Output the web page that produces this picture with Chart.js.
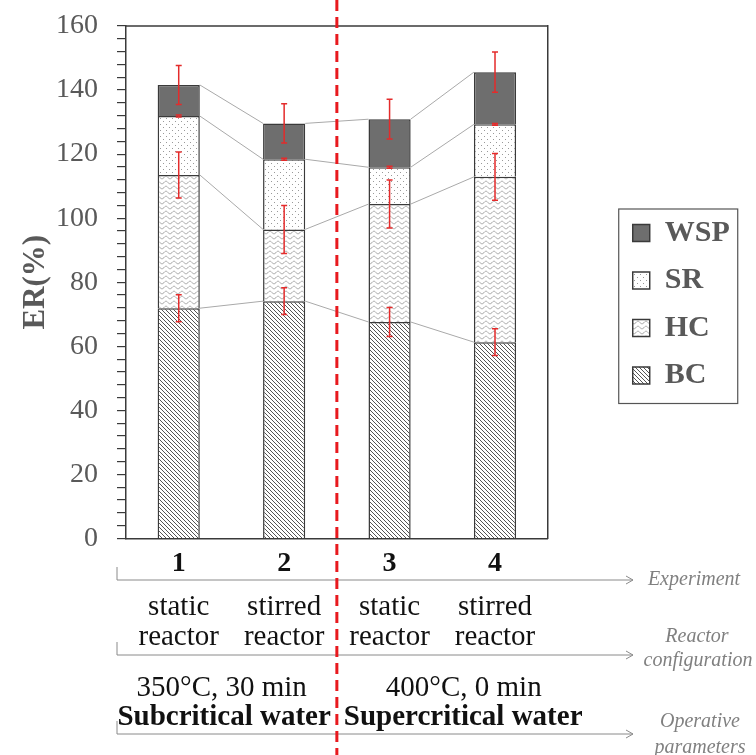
<!DOCTYPE html>
<html><head><meta charset="utf-8">
<script src="https://cdn.jsdelivr.net/npm/chart.js@4.4.1/dist/chart.umd.min.js"></script>
<style>html,body{margin:0;padding:0;background:#fff;}#wrap{width:756px;height:755px;position:relative;}</style>
</head><body><div id="wrap"><canvas id="c" width="756" height="755"></canvas></div>
<script>
// ---------- data ----------
const experiments = ['1', '2', '3', '4'];
const reactorLabels = [['static', 'reactor'], ['stirred', 'reactor'], ['static', 'reactor'], ['stirred', 'reactor']];
const conditionLabels = ['350°C, 30 min', '400°C, 0 min'];
const regimeLabels = ['Subcritical water', 'Supercritical water'];
const rowTitles = [['Experiment'], ['Reactor', 'configuration'], ['Operative', 'parameters']];
const seriesNames = ['BC', 'HC', 'SR', 'WSP'];
const BC = [71.9, 74.1, 67.6, 61.3];
const HC = [41.6, 22.4, 36.8, 51.6];
const SR = [18.4, 21.9, 11.5, 16.4];
const WSP = [9.7, 11.2, 15.0, 16.3];
const BC_err = [4.2, 4.2, 4.5, 4.2];
const HC_err = [7.2, 7.5, 7.5, 7.3];
const SR_err = [0.3, 0.3, 0.3, 0.3];
const WSP_err = [6.1, 6.1, 6.2, 6.3];
const yMin = 0, yMax = 160, yMinorStep = 4, yMajorStep = 20;

const seriesVals = [BC, HC, SR, WSP];
const seriesErr = [BC_err, HC_err, SR_err, WSP_err];
const FONT = "'Liberation Serif', 'Times New Roman', serif";

// ---------- fill patterns ----------
function makePattern(kind) {
  const c = document.createElement('canvas');
  const g = c.getContext('2d');
  if (kind === 'BC') {
    const s = 4; c.width = s; c.height = s;
    g.fillStyle = '#fff'; g.fillRect(0, 0, s, s);
    g.strokeStyle = '#555'; g.lineWidth = 1;
    g.beginPath();
    g.moveTo(-1, -1); g.lineTo(s + 1, s + 1);
    g.moveTo(-1, s - 1); g.lineTo(1, s + 1);
    g.moveTo(s - 1, -1); g.lineTo(s + 1, 1);
    g.stroke();
  } else if (kind === 'HC') {
    const w = 8, h = 5; c.width = w; c.height = h;
    g.fillStyle = '#fff'; g.fillRect(0, 0, w, h);
    g.strokeStyle = '#999'; g.lineWidth = 0.9;
    g.beginPath();
    for (let x = 0; x <= w; x += 0.5) {
      const yy = 2.5 + 1.3 * Math.sin(2 * Math.PI * x / w);
      if (x === 0) g.moveTo(x, yy); else g.lineTo(x, yy);
    }
    g.stroke();
  } else if (kind === 'SR') {
    const s = 6; c.width = s; c.height = s;
    g.fillStyle = '#fff'; g.fillRect(0, 0, s, s);
    g.fillStyle = '#999';
    g.fillRect(1, 1, 1, 1); g.fillRect(4, 4, 1, 1);
  }
  return g.createPattern(c, 'repeat');
}
const ctx = document.getElementById('c').getContext('2d');
const fills = [makePattern('BC'), makePattern('HC'), makePattern('SR'), '#6e6e6e'];

// ---------- extra drawing ----------
function tops() {
  const t = [];
  seriesVals.forEach((vals, k) => {
    t.push(vals.map((v, i) => v + (k > 0 ? t[k - 1][i] : 0)));
  });
  return t;
}

const extras = {
  id: 'extras',
  afterDatasetsDraw(chart) {
    const c = chart.ctx, y = chart.scales.y;
    const T = tops();
    c.save();
    // connecting lines between stack levels
    c.strokeStyle = '#a9a9a9'; c.lineWidth = 1;
    T.forEach((row, k) => {
      const meta = chart.getDatasetMeta(k);
      for (let i = 0; i < row.length - 1; i++) {
        const a = meta.data[i], b = meta.data[i + 1];
        c.beginPath();
        c.moveTo(a.x + a.width / 2, y.getPixelForValue(row[i]));
        c.lineTo(b.x - b.width / 2, y.getPixelForValue(row[i + 1]));
        c.stroke();
      }
    });
    // error bars
    c.strokeStyle = '#e42b2b'; c.lineWidth = 1.5;
    T.forEach((row, k) => {
      const meta = chart.getDatasetMeta(k);
      row.forEach((v, i) => {
        const x = meta.data[i].x, e = seriesErr[k][i];
        const y1 = y.getPixelForValue(v + e), y2 = y.getPixelForValue(v - e);
        c.beginPath();
        c.moveTo(x, y1); c.lineTo(x, y2);
        c.moveTo(x - 3, y1); c.lineTo(x + 3, y1);
        c.moveTo(x - 3, y2); c.lineTo(x + 3, y2);
        c.stroke();
      });
    });
    c.restore();
  },
  afterDraw(chart) {
    const c = chart.ctx, a = chart.chartArea, xs = chart.scales.x;
    c.save();
    // top frame line
    c.strokeStyle = '#3a3a3a'; c.lineWidth = 1.5;
    c.beginPath(); c.moveTo(a.left, a.top); c.lineTo(a.right, a.top); c.stroke();
    // legend frame
    const hb = chart.legend.legendHitBoxes;
    if (hb && hb.length) {
      const l = hb[0].left - 14, t = Math.min(...hb.map(h => h.top)) - 9;
      const b = Math.max(...hb.map(h => h.top + h.height)) + 13;
      c.strokeStyle = '#555'; c.lineWidth = 1.2;
      c.strokeRect(l, t, 119, b - t);
    }
    // bottom annotation rows
    const xd = (xs.getPixelForValue(1) + xs.getPixelForValue(2)) / 2;
    const ax0 = a.left - 9, ax1 = 633;
    const arrowsY = [580, 655, 734];
    c.strokeStyle = '#8a8a8a'; c.lineWidth = 1;
    arrowsY.forEach(yy => {
      c.beginPath();
      c.moveTo(ax0, yy - 13); c.lineTo(ax0, yy); c.lineTo(ax1, yy);
      c.moveTo(ax1 - 7, yy - 4); c.lineTo(ax1, yy); c.lineTo(ax1 - 7, yy + 4);
      c.stroke();
    });
    c.textBaseline = 'middle';
    // italic row titles
    c.fillStyle = '#808080'; c.font = 'italic 20px ' + FONT; c.textAlign = 'center';
    c.fillText(rowTitles[0][0], 694, 580);
    c.fillText(rowTitles[1][0], 697, 637); c.fillText(rowTitles[1][1], 698, 661);
    c.fillText(rowTitles[2][0], 700, 722); c.fillText(rowTitles[2][1], 700, 748);
    // reactor labels
    c.fillStyle = '#111'; c.font = '29px ' + FONT;
    reactorLabels.forEach((lines, i) => {
      const x = xs.getPixelForValue(i);
      c.fillText(lines[0], x, 607);
      c.fillText(lines[1], x, 637);
    });
    // conditions
    c.textAlign = 'right'; c.fillText(conditionLabels[0], xd - 30, 688);
    c.textAlign = 'left'; c.fillText(conditionLabels[1], xd + 49, 688);
    c.font = 'bold 29px ' + FONT;
    c.textAlign = 'right'; c.fillText(regimeLabels[0], xd - 6, 718);
    c.textAlign = 'left'; c.fillText(regimeLabels[1], xd + 7, 718);
    // dashed red separator
    c.strokeStyle = '#e8191e'; c.lineWidth = 3; c.setLineDash([11, 6]);
    c.beginPath(); c.moveTo(xd, 0); c.lineTo(xd, chart.height); c.stroke();
    c.restore();
  }
};

const LEG_BOX_X = 631, PLOT_RIGHT = 546, PLOT_TOP = 26, PLOT_BOTTOM = 538.5, LEG_PAD = 17.5, LEG_FIRST_TOP = 218;

const chart = new Chart(ctx, {
  type: 'bar',
  data: {
    labels: experiments,
    datasets: seriesNames.map((n, k) => ({
      label: n,
      data: seriesVals[k],
      backgroundColor: fills[k],
      borderColor: '#3a3a3a',
      borderWidth: 1.5,
      barPercentage: 0.4,
      categoryPercentage: 1,
      yAxisID: 'y'
    }))
  },
  options: {
    responsive: false,
    animation: false,
    devicePixelRatio: 1,
    layout: { padding: { left: 13, top: 26, right: 10, bottom: 172.5 } },
    plugins: {
      tooltip: { enabled: false },
      legend: {
        position: 'right',
        reverse: true,
        title: { display: false, text: '', font: { size: 1 }, padding: 0 },
        labels: {
          boxWidth: 17, boxHeight: 17, padding: LEG_PAD,
          color: '#595959',
          font: { family: FONT, size: 30, weight: 'bold' }
        }
      }
    },
    scales: {
      x: {
        stacked: true,
        offset: true,
        grid: { drawOnChartArea: false, drawTicks: false },
        border: { display: true, color: '#3a3a3a', width: 1.5 },
        ticks: { color: '#111', padding: 8, font: { family: FONT, size: 28, weight: 'bold' } },
        afterFit(s) { s.height = 44; }
      },
      y: {
        stacked: true,
        min: yMin, max: yMax,
        grid: { drawOnChartArea: false, drawTicks: true, tickLength: 9, color: '#3a3a3a', lineWidth: 1.2 },
        border: { display: true, color: '#3a3a3a', width: 1.5 },
        ticks: {
          stepSize: yMinorStep, autoSkip: false, padding: 19, color: '#595959',
          font: { family: FONT, size: 28, lineHeight: 0.4 },
          callback: v => (v % yMajorStep === 0 ? String(v) : '')
        },
        title: { display: true, text: 'ER(%)', color: '#595959', font: { family: FONT, size: 31, weight: 'bold' } },
        afterFit(s) { s.width = 113; }
      },
      y2: {
        position: 'right',
        grid: { drawOnChartArea: false, drawTicks: false },
        border: { display: true, color: '#3a3a3a', width: 1.5 },
        ticks: { display: false },
        afterFit(s) { s.width = LEG_BOX_X - LEG_PAD - PLOT_RIGHT; }
      }
    }
  },
  plugins: [extras]
});
// layout alignment to the reference frame
const pad = chart.options.layout.padding;
pad.right += chart.legend.left - (LEG_BOX_X - LEG_PAD);
pad.top -= chart.chartArea.top - PLOT_TOP;
pad.bottom += chart.chartArea.bottom - PLOT_BOTTOM;
chart.update();
const hb0 = chart.legend.legendHitBoxes[0];
const shift = LEG_FIRST_TOP - hb0.top;
if (shift > 0.5) {
  const lt = chart.options.plugins.legend.title;
  lt.display = true;
  lt.padding = { top: Math.max(0, 2 * shift - 1.2), bottom: 0 };
  chart.update();
}
</script></body></html>
